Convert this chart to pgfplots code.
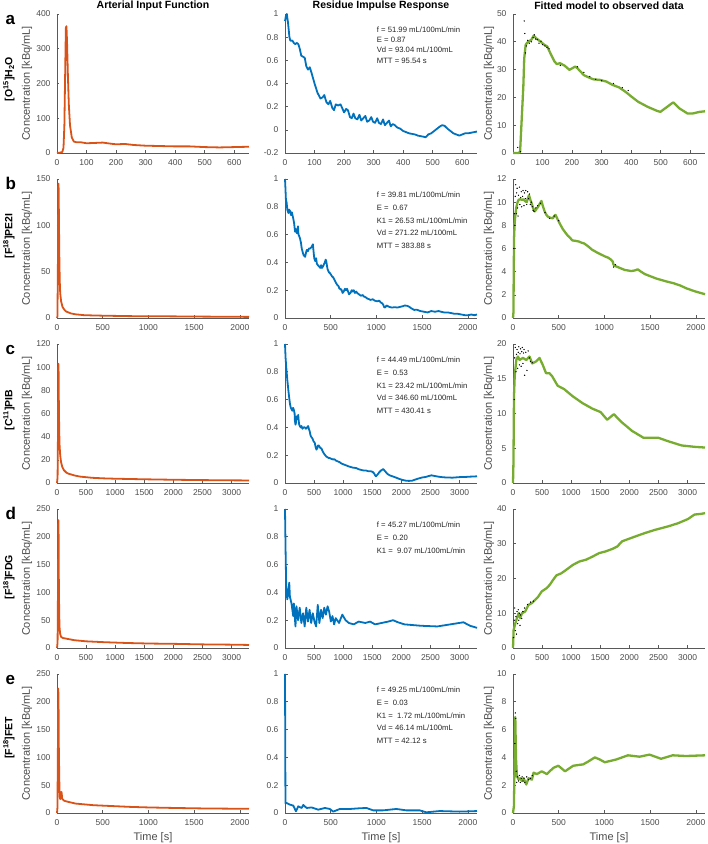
\documentclass[border=0pt]{standalone}
\usepackage{pgfplots}
\pgfplotsset{compat=1.18}
\usepackage{fontspec}
\setmainfont{Liberation Sans}
\definecolor{morange}{rgb}{0.85,0.325,0.098}
\definecolor{mblue}{rgb}{0,0.447,0.741}
\definecolor{mgreen}{rgb}{0.466,0.674,0.188}
\definecolor{axgray}{rgb}{0.35,0.35,0.35}
\definecolor{txgray}{rgb}{0.3,0.3,0.3}
\tikzset{ann/.style={anchor=north west,align=left,text=black!85}}
\pgfplotsset{
  every axis title/.style={at={(0.5,1)},anchor=center,yshift=8pt,font=\bfseries\fontsize{10.5}{12}\selectfont,text=black},
  base/.style={width=192pt,height=139pt,scale only axis,anchor=south west,
    axis lines*=left, axis line style={-,axgray,line width=0.6pt},
    tick style={axgray,line width=0.6pt}, tick align=inside, major tick length=2.5pt,
    tick label style={font=\fontsize{8.5}{9}\selectfont,text=txgray},
    yticklabel style={xshift=-3pt}, xticklabel style={yshift=-3pt},
    label style={font=\fontsize{11}{12}\selectfont,text=txgray},
    scaled ticks=false, /pgf/number format/1000 sep={},
    /pgf/number format/assume math mode=true,
    enlargelimits=false, clip=false,
    xlabel style={at={(axis description cs:0.5,-0.18)},anchor=center},
  },
  c1/.style={base, ylabel={Concentration [kBq/mL]},
    ylabel style={at={(axis description cs:-0.156,0.5)},anchor=center}},
  c2/.style={base},
  c3/.style={base, ylabel={Concentration [kBq/mL]},
    ylabel style={at={(axis description cs:-0.125,0.5)},anchor=center}},
  aif/.style={morange,line width=1.8pt,line join=round},
  irf/.style={mblue,line width=1.8pt,line join=round},
  fit/.style={mgreen,line width=2.3pt,line join=round},
  obs/.style={only marks,mark=*,mark size=0.4pt,black},
}
\newcommand{\rowlab}[3]{%
  \node[anchor=base west,font=\bfseries\fontsize{17}{17}\selectfont] at (axis description cs:-0.286,0.921) {#1};
  \node[rotate=90,anchor=center,font=\bfseries\fontsize{10.5}{12}\selectfont] at (axis description cs:-0.25,#3) {#2};}
\begin{document}
\begin{tikzpicture}
\useasboundingbox (0,0) rectangle (708pt,844pt);
% ===================== ROW a =====================
\begin{axis}[c1, at={(57pt,691pt)}, xmin=0,xmax=650,ymin=0,ymax=400,
  xtick={0,100,200,300,400,500,600}, ytick={0,100,200,300,400},
  title={Arterial Input Function}]
\addplot[aif] coordinates {(0,0)(10,1)(18,3)(22,15)(25,80)(28,250)(30,360)(32,365)(34,320)(37,220)(40,140)(44,80)(50,45)(57,33)(65,31)(80,31)(100,28)(130,29)(155,30)(180,27)(200,25)(230,26)(260,23)(300,21)(350,20)(400,19)(450,19)(500,17)(550,16)(600,17)(650,18)};
\rowlab{a}{[O\textsuperscript{15}]H\textsubscript{2}O}{0.532}
\end{axis}
\begin{axis}[c2, at={(285pt,691pt)}, xmin=0,xmax=650,ymin=-0.2,ymax=1,
  xtick={0,100,200,300,400,500,600}, ytick={-0.2,0,0.2,0.4,0.6,0.8,1},
  title={Residue Impulse Response}]
\addplot[irf] coordinates {(0,0.94)(3,0.98)(6,1.0)(10,0.93)(15,0.8)(18,0.77)(25,0.77)(30,0.75)(35,0.74)(40,0.75)(45,0.74)(50,0.70)(55,0.64)(62,0.63)(67,0.62)(72,0.55)(78,0.52)(84,0.54)(90,0.49)(100,0.40)(110,0.32)(120,0.27)(127,0.28)(133,0.30)(140,0.24)(147,0.22)(153,0.25)(160,0.19)(166,0.17)(172,0.22)(180,0.21)(188,0.22)(195,0.18)(200,0.15)(207,0.18)(213,0.17)(220,0.11)(226,0.10)(232,0.14)(238,0.10)(245,0.09)(252,0.13)(258,0.08)(265,0.10)(272,0.12)(278,0.07)(285,0.08)(292,0.11)(298,0.07)(305,0.06)(312,0.10)(318,0.06)(325,0.05)(332,0.09)(338,0.04)(345,0.06)(352,0.08)(358,0.03)(365,0.05)(372,0.04)(380,0.02)(390,0.01)(400,-0.01)(410,-0.02)(420,-0.03)(430,-0.035)(440,-0.04)(450,-0.05)(460,-0.055)(470,-0.06)(476,-0.065)(485,-0.04)(495,-0.03)(505,-0.01)(515,0.01)(525,0.03)(532,0.04)(540,0.035)(550,0.01)(560,-0.01)(570,-0.03)(580,-0.04)(590,-0.05)(600,-0.04)(610,-0.03)(620,-0.03)(630,-0.025)(640,-0.02)(650,-0.015)};
\node[ann,font=\fontsize{7.7}{10.3}\selectfont] at (axis description cs:0.46,0.935) {f = 51.99 mL/100mL/min\\E = 0.87\\Vd = 93.04 mL/100mL\\MTT = 95.54 s};
\end{axis}
\begin{axis}[c3, at={(513pt,691pt)}, xmin=0,xmax=650,ymin=0,ymax=50,
  xtick={0,100,200,300,400,500,600}, ytick={0,10,20,30,40,50},
  title={Fitted model to observed data}]
\addplot[obs] coordinates {(16,2)(25,0.5)(38,47.5)(40,43)(42,36)(45,38.5)(50,40.5)(55,39.5)(62,40)(68,41.5)(72,42.5)(76,41)(82,40.8)(88,39.5)(95,40.2)(100,39)(108,38.5)(115,38)(122,37.5)(160,31.5)(218,31)(240,29)(260,27.5)(280,26.5)(300,26)(340,25)(370,23.5)(390,22.5)};
\addplot[fit] coordinates {(0,0)(18,0)(24,0.4)(35,24)(38,34)(43,39)(51,40)(62,40.7)(70,42.2)(78,41.3)(94,40)(105,39)(116,38.3)(126,36)(140,33)(148,32)(159,32.3)(175,31.4)(191,29.9)(211,31.1)(218,30.5)(240,28)(256,27.2)(272,26.5)(294,26.3)(316,25.7)(337,24.5)(359,23.6)(381,22)(402,20.2)(424,18.4)(456,16.6)(489,15.1)(499,14.8)(537,17.8)(543,18.2)(564,16)(591,14.2)(608,14.2)(632,14.8)(650,15)};
\end{axis}
% ===================== ROW b =====================
\begin{axis}[c1, at={(57pt,526pt)}, xmin=0,xmax=2100,ymin=0,ymax=150,
  xtick={0,500,1000,1500,2000}, ytick={0,50,100,150}]
\addplot[aif] coordinates {(0,0)(5,2)(10,60)(14,140)(17,145)(20,120)(25,70)(30,40)(35,27)(45,18)(60,12)(80,9)(100,7)(150,5)(200,4)(300,3)(500,2.5)(800,2)(1200,1.8)(1600,1.5)(2100,1.2)};
\rowlab{b}{[F\textsuperscript{18}]PE2I}{0.59}
\end{axis}
\begin{axis}[c2, at={(285pt,526pt)}, xmin=0,xmax=2100,ymin=0,ymax=1,
  xtick={0,500,1000,1500,2000}, ytick={0,0.2,0.4,0.6,0.8,1}]
\addplot[irf] coordinates {(0,1.0)(5,0.93)(10,0.85)(18,0.83)(25,0.78)(37,0.755)(45,0.78)(55,0.77)(65,0.74)(75,0.76)(92,0.71)(100,0.68)(110,0.62)(120,0.64)(130,0.61)(136,0.63)(142,0.66)(147,0.60)(155,0.59)(165,0.57)(175,0.54)(183,0.50)(195,0.47)(205,0.45)(220,0.44)(230,0.47)(238,0.49)(250,0.48)(262,0.50)(275,0.50)(290,0.51)(305,0.53)(312,0.48)(320,0.43)(330,0.41)(340,0.43)(349,0.39)(360,0.38)(374,0.37)(385,0.36)(395,0.38)(404,0.36)(415,0.37)(422,0.38)(435,0.40)(445,0.42)(451,0.41)(458,0.38)(466,0.35)(480,0.33)(495,0.32)(514,0.30)(530,0.29)(545,0.27)(560,0.25)(569,0.24)(585,0.23)(595,0.21)(605,0.21)(620,0.20)(630,0.18)(642,0.19)(655,0.21)(668,0.20)(679,0.21)(690,0.19)(700,0.17)(716,0.18)(730,0.20)(740,0.19)(752,0.20)(765,0.18)(780,0.19)(789,0.18)(810,0.17)(830,0.16)(850,0.165)(862,0.155)(880,0.15)(900,0.14)(920,0.135)(936,0.13)(960,0.135)(980,0.125)(1009,0.12)(1030,0.125)(1050,0.11)(1064,0.105)(1075,0.095)(1083,0.08)(1095,0.075)(1110,0.09)(1119,0.087)(1140,0.08)(1170,0.075)(1200,0.078)(1229,0.075)(1260,0.08)(1290,0.085)(1310,0.09)(1339,0.087)(1360,0.08)(1380,0.07)(1413,0.058)(1440,0.06)(1480,0.05)(1520,0.045)(1560,0.04)(1600,0.05)(1640,0.045)(1680,0.05)(1706,0.045)(1740,0.04)(1780,0.04)(1820,0.035)(1853,0.03)(1890,0.03)(1930,0.025)(1970,0.02)(2000,0.02)(2040,0.025)(2070,0.02)(2100,0.025)};
\node[ann,font=\fontsize{7.7}{12.7}\selectfont] at (axis description cs:0.46,0.93) {f = 39.81 mL/100mL/min\\E = \ 0.67\\K1 = 26.53 mL/100mL/min\\Vd = 271.22 mL/100mL\\MTT = 383.88 s};
\end{axis}
\begin{axis}[c3, at={(513pt,526pt)}, xmin=0,xmax=2100,ymin=0,ymax=12,
  xtick={0,500,1000,1500,2000}, ytick={0,2,4,6,8,10,12}]
\addplot[obs] coordinates {(10,6)(15,9)(20,8)(25,10.5)(30,11.5)(35,9)(40,10.8)(45,11.2)(50,9.5)(55,8.8)(60,10.6)(70,11.3)(75,9.8)(85,10.4)(90,10.9)(95,9.6)(105,10.5)(110,11.0)(120,9.7)(125,10.8)(135,10.3)(140,11.0)(150,9.8)(160,10.9)(170,10.3)(180,10.7)(190,9.8)(200,10.0)(210,9.6)(220,9.3)(230,9.2)(250,9.5)(270,9.7)(300,9.9)(350,9.1)(400,8.6)(450,8.8)(500,8.4)(1100,4.4)(1120,4.6)};
\addplot[fit] coordinates {(0,0)(5,0.5)(8,4)(12,7)(18,8.2)(25,8.8)(35,9.5)(50,10.0)(61,10.2)(80,10.25)(100,10.2)(114,10.25)(130,10.1)(150,10.0)(165,10.4)(175,10.6)(190,10.2)(204,9.9)(220,9.5)(239,9.2)(255,9.4)(275,9.6)(295,9.9)(311,10.1)(325,9.7)(346,9.2)(365,8.9)(382,8.75)(410,8.65)(436,8.6)(450,8.8)(464,8.9)(477,8.7)(489,8.5)(515,8.1)(543,7.7)(570,7.4)(600,7.1)(614,7.0)(650,6.7)(690,6.65)(721,6.6)(750,6.5)(775,6.45)(820,6.2)(864,5.9)(920,5.65)(971,5.45)(1010,5.3)(1043,5.2)(1070,5.05)(1089,4.9)(1100,4.6)(1114,4.5)(1160,4.35)(1221,4.15)(1260,4.1)(1293,4.05)(1330,4.1)(1364,4.2)(1400,4.0)(1440,3.8)(1471,3.7)(1520,3.55)(1570,3.4)(1614,3.3)(1680,3.15)(1757,3.0)(1830,2.8)(1900,2.55)(1990,2.3)(2079,2.1)(2100,2.05)};
\end{axis}
% ===================== ROW c =====================
\begin{axis}[c1, at={(57pt,361pt)}, xmin=0,xmax=3300,ymin=0,ymax=120,
  xtick={0,500,1000,1500,2000,2500,3000}, ytick={0,20,40,60,80,100,120}]
\addplot[aif] coordinates {(0,0)(10,5)(18,50)(22,95)(25,103)(28,95)(32,70)(38,45)(45,32)(55,24)(70,18)(90,14)(120,11)(160,9)(200,8)(300,6.5)(400,5.5)(600,4.5)(800,4)(1000,3.7)(1500,3.2)(2000,2.8)(2500,2.5)(3000,2.3)(3300,2.2)};
\rowlab{c}{[C\textsuperscript{11}]PIB}{0.525}
\end{axis}
\begin{axis}[c2, at={(285pt,361pt)}, xmin=0,xmax=3300,ymin=0,ymax=1,
  xtick={0,500,1000,1500,2000,2500,3000}, ytick={0,0.2,0.4,0.6,0.8,1}]
\addplot[irf] coordinates {(0,1.0)(10,0.9)(20,0.84)(28,0.80)(40,0.74)(57,0.67)(70,0.62)(85,0.57)(100,0.54)(114,0.53)(125,0.52)(135,0.54)(142,0.54)(155,0.52)(165,0.50)(170,0.45)(180,0.42)(187,0.43)(195,0.47)(203,0.48)(210,0.48)(218,0.46)(227,0.49)(235,0.45)(244,0.42)(255,0.41)(270,0.40)(284,0.41)(300,0.39)(320,0.40)(341,0.40)(360,0.39)(380,0.40)(398,0.41)(410,0.39)(426,0.37)(440,0.34)(455,0.33)(472,0.32)(490,0.30)(511,0.29)(525,0.26)(540,0.24)(555,0.25)(565,0.27)(580,0.27)(595,0.26)(610,0.25)(625,0.25)(645,0.23)(665,0.215)(690,0.20)(710,0.19)(730,0.185)(750,0.18)(767,0.18)(790,0.175)(820,0.17)(852,0.17)(880,0.16)(910,0.155)(938,0.15)(970,0.14)(1000,0.135)(1030,0.13)(1051,0.127)(1090,0.12)(1130,0.115)(1170,0.11)(1222,0.108)(1260,0.10)(1300,0.095)(1350,0.09)(1392,0.09)(1430,0.085)(1470,0.085)(1506,0.08)(1530,0.07)(1550,0.055)(1563,0.048)(1590,0.06)(1619,0.077)(1650,0.09)(1688,0.10)(1720,0.085)(1761,0.065)(1800,0.055)(1847,0.048)(1900,0.04)(1960,0.03)(2020,0.022)(2074,0.017)(2130,0.015)(2188,0.017)(2240,0.025)(2301,0.033)(2360,0.04)(2415,0.043)(2470,0.05)(2517,0.055)(2580,0.05)(2642,0.045)(2700,0.042)(2760,0.04)(2820,0.04)(2869,0.038)(2930,0.04)(2990,0.042)(3050,0.043)(3097,0.043)(3150,0.045)(3200,0.046)(3250,0.047)(3300,0.048)};
\node[ann,font=\fontsize{7.7}{12.7}\selectfont] at (axis description cs:0.46,0.93) {f = 44.49 mL/100mL/min\\E = \ 0.53\\K1 = 23.42 mL/100mL/min\\Vd = 346.60 mL/100mL\\MTT = 430.41 s};
\end{axis}
\begin{axis}[c3, at={(513pt,361pt)}, xmin=0,xmax=3300,ymin=0,ymax=20,
  xtick={0,500,1000,1500,2000,2500,3000}, ytick={0,5,10,15,20}]
\addplot[obs] coordinates {(20,12)(30,18)(40,19.5)(50,16)(60,18.5)(70,19.2)(80,16.5)(90,18.8)(100,19.6)(110,17)(120,18.6)(130,19.3)(140,16.8)(150,18.9)(160,19.5)(170,17.2)(180,18.7)(190,19.2)(200,15.5)(220,18.8)(240,16.2)(260,19.0)(280,18.0)(300,17.5)(330,17.3)};
\addplot[fit] coordinates {(0,0)(8,3)(17,12.5)(30,15.5)(40,16.3)(57,17.7)(85,18.2)(114,17.7)(170,18)(227,17.7)(284,18.2)(330,17.2)(398,17.5)(455,18)(511,17)(568,15.8)(625,15.8)(670,15.4)(767,14)(880,13.5)(1023,12.5)(1193,11.5)(1364,10.7)(1506,10.2)(1619,9.1)(1733,9.9)(1875,8.7)(2045,7.5)(2244,6.5)(2500,6.5)(2670,6.0)(2898,5.4)(3125,5.2)(3300,5.1)};
\end{axis}
% ===================== ROW d =====================
\begin{axis}[c1, at={(57pt,196pt)}, xmin=0,xmax=3300,ymin=0,ymax=250,
  xtick={0,500,1000,1500,2000,2500,3000}, ytick={0,50,100,150,200,250}]
\addplot[aif] coordinates {(0,0)(10,10)(18,120)(22,210)(25,230)(28,200)(32,120)(38,60)(45,35)(55,25)(70,20)(100,18)(150,17)(200,16)(300,14)(500,12)(800,10.5)(1200,9)(1600,8)(2000,7.5)(2500,6.5)(3000,6)(3300,5.5)};
\rowlab{d}{[F\textsuperscript{18}]FDG}{0.51}
\end{axis}
\begin{axis}[c2, at={(285pt,196pt)}, xmin=0,xmax=3300,ymin=0,ymax=1,
  xtick={0,500,1000,1500,2000,2500,3000}, ytick={0,0.2,0.4,0.6,0.8,1}]
\addplot[irf] coordinates {(0,1.0)(10,0.7)(20,0.45)(39,0.35)(56,0.40)(73,0.47)(84,0.37)(112,0.32)(141,0.23)(152,0.32)(180,0.155)(197,0.30)(225,0.20)(253,0.29)(281,0.18)(310,0.25)(338,0.155)(366,0.29)(394,0.19)(422,0.275)(450,0.18)(478,0.25)(506,0.19)(535,0.155)(563,0.31)(591,0.18)(619,0.275)(647,0.215)(675,0.29)(703,0.24)(732,0.30)(760,0.26)(788,0.19)(816,0.23)(844,0.17)(872,0.215)(928,0.18)(985,0.24)(1041,0.20)(1097,0.18)(1182,0.17)(1266,0.19)(1379,0.18)(1463,0.19)(1548,0.17)(1660,0.18)(1773,0.19)(1857,0.20)(1941,0.185)(2054,0.17)(2335,0.16)(2617,0.155)(2842,0.17)(3067,0.185)(3180,0.16)(3300,0.145)};
\node[ann,font=\fontsize{7.7}{12.7}\selectfont] at (axis description cs:0.46,0.93) {f = 45.27 mL/100mL/min\\E = \ 0.20\\K1 = \ 9.07 mL/100mL/min};
\end{axis}
\begin{axis}[c3, at={(513pt,196pt)}, xmin=0,xmax=3300,ymin=0,ymax=40,
  xtick={0,500,1000,1500,2000,2500,3000}, ytick={0,10,20,30,40}]
\addplot[obs] coordinates {(10,3)(20,8)(30,11.5)(40,5)(50,9)(60,4)(70,10.5)(80,7)(90,11)(100,8)(110,10)(120,6.5)(130,9.5)(150,8.5)(170,10.5)(200,11.5)(250,12.5)(300,13.2)(350,13.5)};
\addplot[fit] coordinates {(0,0)(11,5.2)(40,7.1)(68,8.6)(96,10)(124,8.6)(153,10)(209,10.5)(266,12.4)(322,12.9)(379,13.8)(435,14.8)(492,16.25)(576,17.2)(633,18.2)(689,19.6)(746,20.9)(831,21.5)(915,22.5)(1028,23.9)(1141,24.9)(1254,25.4)(1367,26.3)(1480,27.3)(1593,27.8)(1706,28.5)(1791,29.2)(1875,30.7)(1989,31.4)(2102,32.1)(2271,33.1)(2441,34)(2667,35)(2836,35.9)(3006,37.1)(3119,38.4)(3232,38.6)(3300,38.8)};
\end{axis}
% ===================== ROW e =====================
\begin{axis}[c1, at={(57pt,31pt)}, xmin=0,xmax=2100,ymin=0,ymax=250,
  xtick={0,500,1000,1500,2000}, ytick={0,50,100,150,200,250}, xlabel={Time [s]}]
\addplot[aif] coordinates {(0,0)(5,10)(10,120)(14,224)(17,200)(20,120)(25,60)(30,30)(35,25)(42,28)(48,38)(52,35)(56,26)(65,24)(80,22)(100,21)(150,19)(200,17)(300,15.5)(400,14)(600,12.5)(800,11)(1000,10)(1300,9)(1600,8.2)(2100,7.5)};
\rowlab{e}{[F\textsuperscript{18}]FET}{0.54}
\end{axis}
\begin{axis}[c2, at={(285pt,31pt)}, xmin=0,xmax=2100,ymin=0,ymax=1,
  xtick={0,500,1000,1500,2000}, ytick={0,0.2,0.4,0.6,0.8,1}, xlabel={Time [s]}]
\addplot[irf] coordinates {(0,1.0)(5,0.07)(18,0.072)(55,0.06)(91,0.053)(120,0.012)(145,0.048)(182,0.036)(200,0.058)(236,0.036)(291,0.04)(364,0.024)(436,0.036)(491,0.029)(527,0.01)(600,0.029)(709,0.029)(818,0.034)(891,0.036)(964,0.019)(1073,0.019)(1218,0.029)(1327,0.019)(1473,0.019)(1545,0.005)(1691,0.014)(1800,0.012)(1909,0.01)(2018,0.012)(2100,0.014)};
\node[ann,font=\fontsize{7.7}{12.7}\selectfont] at (axis description cs:0.46,0.93) {f = 49.25 mL/100mL/min\\E = \ 0.03\\K1 = \ 1.72 mL/100mL/min\\Vd = 46.14 mL/100mL\\MTT = 42.12 s};
\end{axis}
\begin{axis}[c3, at={(513pt,31pt)}, xmin=0,xmax=2100,ymin=0,ymax=10,
  xtick={0,500,1000,1500,2000}, ytick={0,2,4,6,8,10}, xlabel={Time [s]}]
\addplot[obs] coordinates {(20,5)(25,7.2)(30,6.8)(35,3)(40,2.2)(50,2.6)(60,2.3)(70,2.7)(80,2.2)(90,2.5)(100,2.6)(110,2.3)(120,2.5)(130,2.2)(150,2.6)(170,2.4)(190,2.5)(210,2.7)};
\addplot[fit] coordinates {(0,0)(10,0.5)(25,6.9)(33,3.9)(43,2.65)(62,2.4)(80,2.5)(98,2.3)(116,2.5)(145,2.05)(170,2.5)(207,2.4)(225,2.9)(261,2.8)(315,3.0)(370,2.8)(442,3.25)(496,3.4)(569,3.0)(659,3.4)(768,3.5)(822,3.7)(895,4.0)(949,3.85)(1004,3.65)(1130,3.85)(1257,4.15)(1384,4.05)(1493,4.2)(1620,3.9)(1746,4.15)(1891,4.1)(2100,4.15)};
\end{axis}
\end{tikzpicture}
\end{document}
